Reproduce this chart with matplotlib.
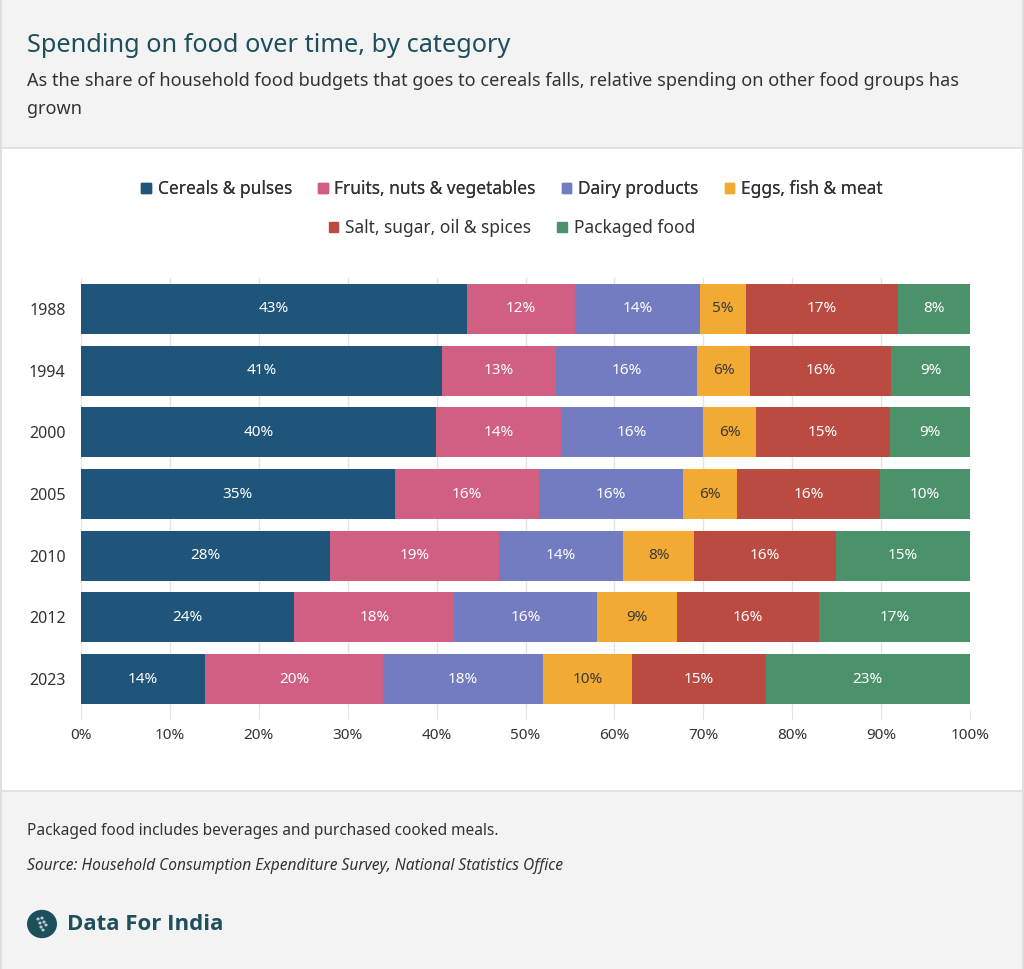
import matplotlib
matplotlib.use("Agg")
import matplotlib.pyplot as plt
from matplotlib.patches import Rectangle, Circle

plt.rcParams['font.family'] = ['Noto Sans', 'DejaVu Sans']

years = ["1988", "1994", "2000", "2005", "2010", "2012", "2023"]
categories = ["Cereals & pulses", "Fruits, nuts & vegetables", "Dairy products",
              "Eggs, fish & meat", "Salt, sugar, oil & spices", "Packaged food"]
cereals = [43.4, 40.6, 39.9, 35.3, 28.0, 24.0, 13.9]
fruits = [12.2, 12.8, 14.1, 16.2, 19.0, 18.0, 20.1]
dairy = [14.0, 15.9, 16.0, 16.2, 14.0, 16.0, 18.0]
eggs = [5.2, 6.0, 5.9, 6.1, 8.0, 9.0, 10.0]
salt = [17.1, 15.8, 15.1, 16.1, 15.9, 16.0, 15.0]
packaged = [8.1, 8.9, 9.0, 10.1, 15.1, 17.0, 23.0]
series = [cereals, fruits, dairy, eggs, salt, packaged]
colors = ["#1f557a", "#d05f82", "#737cc0", "#f2aa32", "#bb4a41", "#4b9169"]
text_colors = ["white", "white", "white", "#3a3a3a", "white", "white"]

W, H = 1024, 969
fig = plt.figure(figsize=(W / 100, H / 100), dpi=100)
fig.patch.set_facecolor("white")

def px(x, y):
    return x / W, 1 - y / H

# background bands
fig.patches.append(Rectangle((0, 1 - 148 / H), 1, 148 / H, transform=fig.transFigure,
                             facecolor="#f3f3f3", edgecolor="none", zorder=0))
fig.patches.append(Rectangle((0, 0), 1, 1 - 791 / H, transform=fig.transFigure,
                             facecolor="#f3f3f3", edgecolor="none", zorder=0))
fig.add_artist(plt.Line2D([0, 1], [1 - 148 / H] * 2, color="#dedede", lw=1.2))
fig.add_artist(plt.Line2D([0, 1], [1 - 791 / H] * 2, color="#dedede", lw=1.2))
fig.add_artist(plt.Line2D([0.001, 0.001], [0, 1], color="#dedede", lw=1.5))
fig.add_artist(plt.Line2D([0.999, 0.999], [0, 1], color="#dedede", lw=1.5))

# header
fig.text(*px(27, 46), "Spending on food over time, by category", fontsize=18.2,
         color="#1d4f5c", va="center", ha="left")
fig.text(*px(27, 81), "As the share of household food budgets that goes to cereals falls, "
         "relative spending on other food groups has", fontsize=13.0, color="#333333",
         va="center", ha="left")
fig.text(*px(27, 109), "grown", fontsize=13.0, color="#333333", va="center", ha="left")

# chart
ax = fig.add_axes([81 / W, 1 - 710 / H, 889 / W, 432 / H])
ax.set_facecolor("white")
ypos = list(range(len(years)))
left = [0] * len(years)
for vals, c, tc in zip(series, colors, text_colors):
    ax.barh(ypos, vals, left=left, height=0.81, color=c, edgecolor="none", zorder=3)
    for y, v, l in zip(ypos, vals, left):
        ax.text(l + v / 2, y, f"{round(v):.0f}%", ha="center", va="center",
                fontsize=11, color=tc, zorder=4)
    left = [a + b for a, b in zip(left, vals)]

ax.set_xlim(0, 100)
ax.set_ylim(len(years) - 0.5, -0.5)
ax.set_yticks(ypos)
ax.set_yticklabels(years)
ax.set_xticks(range(0, 101, 10))
ax.set_xticklabels([f"{t}%" for t in range(0, 101, 10)])
ax.tick_params(axis="y", length=0, pad=11, labelsize=11.5, labelcolor="#333333")
ax.tick_params(axis="x", length=7, color="#e4e4e4", pad=6, labelsize=11, labelcolor="#333333")
ax.grid(axis="x", color="#e4e4e4", lw=1, zorder=0)
for s in ax.spines.values():
    s.set_visible(False)

# legend
handles = [Rectangle((0, 0), 1, 1, color=c) for c in colors]
leg_kw = dict(loc="center", ncol=4, frameon=False, fontsize=12.5, handlelength=0.55,
              handleheight=0.55, handletextpad=0.4, columnspacing=1.5, labelcolor="#333333")
leg1 = fig.legend(handles[:4], categories[:4], bbox_to_anchor=px(512, 189), **leg_kw)
leg_kw["ncol"] = 2
fig.legend(handles[4:], categories[4:], bbox_to_anchor=px(512, 228), **leg_kw)
fig.add_artist(leg1)

# footer
fig.text(*px(27, 831), "Packaged food includes beverages and purchased cooked meals.",
         fontsize=11.1, color="#333333", va="center", ha="left")
fig.text(*px(27, 866), "Source: Household Consumption Expenditure Survey, National Statistics Office",
         fontsize=11.2, color="#333333", va="center", ha="left", style="italic")
fig.patches.append(Circle(px(42, 924), 15 / W, transform=fig.transFigure,
                          facecolor="#1d4f5c", edgecolor="none"))
for dx, dy in [(-4, -5), (0, -6), (-2, -1), (2, -2), (-1, 3), (1, 6), (4, 1)]:
    fig.patches.append(Circle(px(42 + dx, 924 + dy), 1.6 / W, transform=fig.transFigure,
                              facecolor="#b9c9cc", edgecolor="none"))
fig.text(*px(67, 924), "Data For India", fontsize=16, fontweight="bold", color="#1d4f5c",
         va="center", ha="left", family=["Open Sans", "DejaVu Sans"])

fig.savefig("out.png", dpi=100)
